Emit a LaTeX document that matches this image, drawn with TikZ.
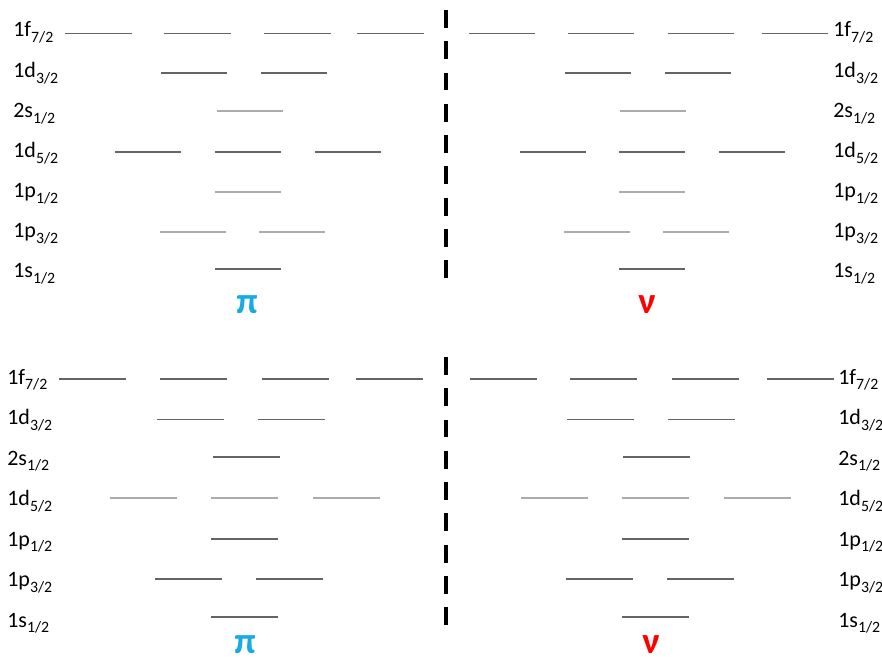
\documentclass[tikz,border=0pt]{standalone}
\usepackage{fontspec}
\setmainfont{Carlito}
\usepackage{xcolor}
\usetikzlibrary{positioning}
\definecolor{protonblue}{RGB}{24,170,226}
\definecolor{neutronred}{RGB}{255,0,0}
\definecolor{fullgray}{RGB}{100,100,100}
\definecolor{emptygray}{RGB}{172,172,172}
\newcommand{\orb}[2]{#1\raisebox{-3.4pt}{\fontsize{9}{9}\selectfont #2/2}}
\tikzstyle{none}=[inner sep=0mm]
\tikzstyle{lvl}=[draw=fullgray,line width=1.1pt]
\tikzstyle{lvl thin}=[lvl,line width=0.7pt]
\tikzstyle{lvl light}=[lvl,draw=emptygray]
\tikzstyle{orb}=[inner sep=0mm,anchor=base west,font=\fontsize{12.5}{12.5}\selectfont]
\tikzstyle{species}=[inner sep=0mm,font=\fontsize{21}{21}\selectfont\bfseries]
\tikzstyle{divider}=[line width=2.8pt,dash pattern=on 10.2pt off 7.6pt]

\begin{document}
\begin{tikzpicture}[x=0.02cm,y=-0.02cm]
	\useasboundingbox (0,0) rectangle (882,665);
	\foreach \o/\j [count=\i from 0] in {1f/7,1d/3,2s/1,1d/5,1p/1,1p/3,1s/1} {
		\node[orb] (tl\i) at (13,{37+40.1*\i}) {\orb{\o}{\j}};
		\node[orb] (tr\i) at (833,{37+40.1*\i}) {\orb{\o}{\j}};
		\node[orb] (bl\i) at (7,{384+40.5*\i}) {\orb{\o}{\j}};
		\node[orb] (br\i) at (838,{384+40.5*\i}) {\orb{\o}{\j}};
	}
	\node[species,text=protonblue] (pi1) at (247,305) {π};
	\node[species,text=neutronred] (nu1) at (647,305) {ν};
	\node[species,text=protonblue] (pi2) at (245,645) {π};
	\node[species,text=neutronred] (nu2) at (651,645) {ν};
	\coordinate (d1) at (446,10);
	\coordinate (d2) at (446,279);
	\coordinate (d3) at (446,357);
	\coordinate (d4) at (446,627);
	\draw[divider] (d1) -- (d2);
	\draw[divider] (d3) -- (d4);

	\foreach \x in {65,164,264,357} \draw[lvl thin] (\x,33.5) -- ++(67,0);
	\foreach \x in {161,261} \draw[lvl] (\x,73.3) -- ++(66,0);
	\draw[lvl light] (217,111) -- ++(66,0);
	\foreach \x in {115,215,315} \draw[lvl] (\x,151.7) -- ++(66,0);
	\draw[lvl light] (215,192.3) -- ++(66,0);
	\foreach \x in {160,259} \draw[lvl light] (\x,231.7) -- ++(66,0);
	\draw[lvl] (215,269.3) -- ++(66,0);

	\foreach \x in {469,568,668,762} \draw[lvl thin] (\x,33.5) -- ++(66,0);
	\foreach \x in {565,665} \draw[lvl] (\x,73.3) -- ++(66,0);
	\draw[lvl light] (620,111) -- ++(66,0);
	\foreach \x in {520,619,719} \draw[lvl] (\x,151.7) -- ++(66,0);
	\draw[lvl light] (619,192.3) -- ++(66,0);
	\foreach \x in {564,663} \draw[lvl light] (\x,231.7) -- ++(66,0);
	\draw[lvl] (619,269.3) -- ++(66,0);

	\foreach \x in {59,160,262,356} \draw[lvl] (\x,378.7) -- ++(67,0);
	\foreach \x in {157,258} \draw[lvl thin] (\x,419.3) -- ++(67,0);
	\draw[lvl] (213,457.3) -- ++(67,0);
	\foreach \x in {110,211,313} \draw[lvl light] (\x,498) -- ++(67,0);
	\draw[lvl] (211,539.3) -- ++(67,0);
	\foreach \x in {155,256} \draw[lvl] (\x,579) -- ++(67,0);
	\draw[lvl] (211,617.3) -- ++(67,0);

	\foreach \x in {470,570,672,767} \draw[lvl] (\x,378.7) -- ++(67,0);
	\foreach \x in {567,668} \draw[lvl thin] (\x,419.3) -- ++(67,0);
	\draw[lvl] (623,457.3) -- ++(67,0);
	\foreach \x in {521,622,724} \draw[lvl light] (\x,498) -- ++(67,0);
	\draw[lvl] (622,539.3) -- ++(67,0);
	\foreach \x in {566,667} \draw[lvl] (\x,579) -- ++(67,0);
	\draw[lvl] (622,617.3) -- ++(67,0);
\end{tikzpicture}
\end{document}
